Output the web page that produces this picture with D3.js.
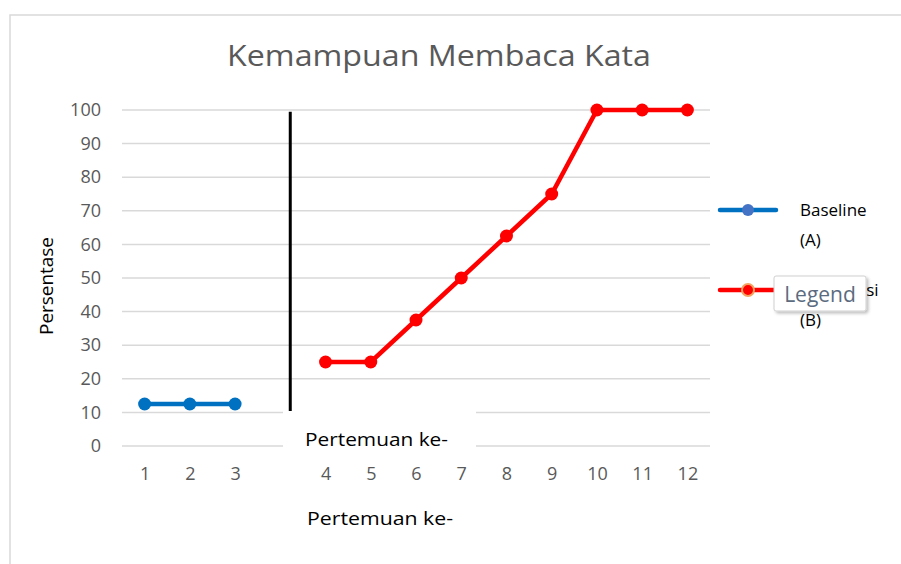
<!DOCTYPE html>
<html>
<head>
<meta charset="utf-8">
<script src="https://cdn.jsdelivr.net/npm/d3@7"></script>
<style>
  body { margin: 0; background: #fff; }
  text { font-family: "Open Sans", sans-serif; }
</style>
</head>
<body>
<div id="viz"></div>
<script>
// categories (the blank slot is the gap between phase A and phase B)
var categories = ["1", "2", "3", " ", "4", "5", "6", "7", "8", "9", "10", "11", "12"];
var baselineX = ["1", "2", "3"];
var baselineY = [12.5, 12.5, 12.5];
var interventionX = ["4", "5", "6", "7", "8", "9", "10", "11", "12"];
var interventionY = [25, 25, 37.5, 50, 62.5, 75, 100, 100, 100];
var yTicks = [0, 10, 20, 30, 40, 50, 60, 70, 80, 90, 100];

var width = 901, height = 564;
var svg = d3.select("#viz").append("svg")
  .attr("width", width)
  .attr("height", height);

var defs = svg.append("defs");
var f = defs.append("filter").attr("id", "shadow")
  .attr("x", "-20%").attr("y", "-20%").attr("width", "150%").attr("height", "160%");
f.append("feDropShadow").attr("dx", 2).attr("dy", 2).attr("stdDeviation", 1.5)
  .attr("flood-color", "#000").attr("flood-opacity", 0.25);

// chart area frame
svg.append("path")
  .attr("d", "M10,564V15H901")
  .attr("fill", "none")
  .attr("stroke", "#d9d9d9")
  .attr("stroke-width", 1.5);

var x = d3.scalePoint().domain(categories).range([122, 710]).padding(0.5);
var y = d3.scaleLinear().domain([0, 100]).range([446, 110]);

// gridlines
svg.append("g").selectAll("line")
  .data(yTicks)
  .enter().append("line")
  .attr("x1", 122).attr("x2", 710)
  .attr("y1", function (d) { return y(d); })
  .attr("y2", function (d) { return y(d); })
  .attr("stroke", "#d9d9d9")
  .attr("stroke-width", 1.5);

// y axis labels
var yAxis = svg.append("g")
  .attr("transform", "translate(101,0)")
  .call(d3.axisLeft(y).tickValues(yTicks).tickSize(0).tickPadding(0));
yAxis.select(".domain").remove();
yAxis.selectAll("text")
  .attr("font-family", "Open Sans, sans-serif")
  .attr("font-size", 18)
  .attr("fill", "#595959");

// x axis labels
var xAxis = svg.append("g")
  .attr("transform", "translate(0,467)")
  .call(d3.axisBottom(x).tickSize(0).tickPadding(0));
xAxis.select(".domain").remove();
xAxis.selectAll("text")
  .attr("font-family", "Open Sans, sans-serif")
  .attr("font-size", 18)
  .attr("fill", "#595959");

// phase divider
var dividerX = x(" ") + x.step() * 0.22;
svg.append("line")
  .attr("x1", dividerX).attr("x2", dividerX)
  .attr("y1", y(99.5)).attr("y2", y(9))
  .attr("stroke", "#000")
  .attr("stroke-width", 3);

var line = d3.line()
  .x(function (d) { return x(d[0]); })
  .y(function (d) { return y(d[1]); });

var baseline = d3.zip(baselineX, baselineY);
var intervention = d3.zip(interventionX, interventionY);

svg.append("path").datum(baseline)
  .attr("d", line)
  .attr("fill", "none")
  .attr("stroke", "#0070c0")
  .attr("stroke-width", 4.5);
svg.append("g").selectAll("circle")
  .data(baseline).enter().append("circle")
  .attr("cx", function (d) { return x(d[0]); })
  .attr("cy", function (d) { return y(d[1]); })
  .attr("r", 6.5)
  .attr("fill", "#0070c0");

svg.append("path").datum(intervention)
  .attr("d", line)
  .attr("fill", "none")
  .attr("stroke", "#ff0000")
  .attr("stroke-width", 4.5);
svg.append("g").selectAll("circle")
  .data(intervention).enter().append("circle")
  .attr("cx", function (d) { return x(d[0]); })
  .attr("cy", function (d) { return y(d[1]); })
  .attr("r", 6.5)
  .attr("fill", "#ff0000");

// white label box over the axis
svg.append("rect")
  .attr("x", 283).attr("y", 411)
  .attr("width", 193).attr("height", 46)
  .attr("fill", "#fff");
svg.append("text")
  .attr("x", 305).attr("y", 446)
  .attr("font-size", 19)
  .attr("textLength", 143)
  .attr("lengthAdjust", "spacingAndGlyphs")
  .attr("fill", "#000")
  .text("Pertemuan ke-");

// title
svg.append("text")
  .attr("x", 439).attr("y", 66)
  .attr("text-anchor", "middle")
  .attr("font-size", 30)
  .attr("textLength", 424)
  .attr("lengthAdjust", "spacingAndGlyphs")
  .attr("fill", "#595959")
  .text("Kemampuan Membaca Kata");

// axis titles
svg.append("text")
  .attr("transform", "translate(53,286) rotate(-90)")
  .attr("text-anchor", "middle")
  .attr("font-size", 18)
  .attr("textLength", 98)
  .attr("lengthAdjust", "spacingAndGlyphs")
  .attr("fill", "#000")
  .text("Persentase");
svg.append("text")
  .attr("x", 380).attr("y", 525)
  .attr("text-anchor", "middle")
  .attr("font-size", 18)
  .attr("textLength", 146)
  .attr("lengthAdjust", "spacingAndGlyphs")
  .attr("fill", "#000")
  .text("Pertemuan ke-");

// legend
var legend = [
  { name: ["Baseline", "(A)"], color: "#0070c0", marker: "#4472c4", stroke: "none", y: 210 },
  { name: ["Intervensi", "(B)"], color: "#ff0000", marker: "#ff0000", stroke: "#f4a460", y: 290 }
];
var lg = svg.append("g").selectAll("g").data(legend).enter().append("g");
lg.append("line")
  .attr("x1", 720).attr("x2", 776)
  .attr("y1", function (d) { return d.y; })
  .attr("y2", function (d) { return d.y; })
  .attr("stroke", function (d) { return d.color; })
  .attr("stroke-width", 4.5)
  .attr("stroke-linecap", "round");
lg.append("circle")
  .attr("cx", 748)
  .attr("cy", function (d) { return d.y; })
  .attr("r", 6)
  .attr("fill", function (d) { return d.marker; })
  .attr("stroke", function (d) { return d.stroke; })
  .attr("stroke-width", 2);
lg.append("text")
  .attr("x", 800)
  .attr("y", function (d) { return d.y + 6; })
  .attr("font-size", 17)
  .attr("fill", "#000")
  .text(function (d) { return d.name[0]; });
lg.append("text")
  .attr("x", 800)
  .attr("y", function (d) { return d.y + 36; })
  .attr("font-size", 17)
  .attr("fill", "#000")
  .text(function (d) { return d.name[1]; });

// hover tooltip
svg.append("rect")
  .attr("x", 774).attr("y", 276)
  .attr("width", 92).attr("height", 35)
  .attr("rx", 2)
  .attr("fill", "#fff")
  .attr("stroke", "#d0d0d0")
  .attr("filter", "url(#shadow)");
svg.append("text")
  .attr("x", 820).attr("y", 302)
  .attr("text-anchor", "middle")
  .attr("font-size", 21)
  .attr("fill", "#5b6b80")
  .text("Legend");
</script>
</body>
</html>
